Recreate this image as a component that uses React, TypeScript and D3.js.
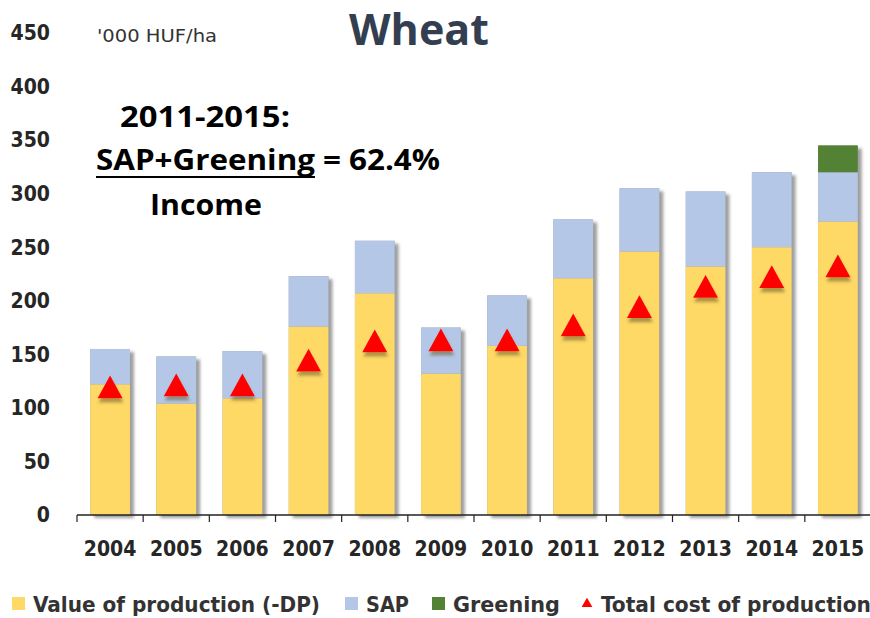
import React from "react";
import * as d3 from "d3";

const years = ["2004", "2005", "2006", "2007", "2008", "2009", "2010", "2011", "2012", "2013", "2014", "2015"];
const production = [122, 104, 109, 176, 207, 132, 158, 221, 246, 232, 250, 274];
const sap = [33, 44, 44, 47, 49, 43, 47, 55, 59, 70, 70, 46];
const greening = [0, 0, 0, 0, 0, 0, 0, 0, 0, 0, 0, 25];
const totalCost = [116, 118, 118, 141, 159, 160, 160, 174, 191, 210, 219, 229];
const yTicks = [0, 50, 100, 150, 200, 250, 300, 350, 400, 450];

const legendItems = [
  { label: "Value of production (-DP)", color: "#FFD966", kind: "rect", x: 12, w: 287 },
  { label: "SAP", color: "#B4C7E7", kind: "rect", x: 345, w: 43 },
  { label: "Greening", color: "#548235", kind: "rect", x: 432, w: 107 },
  { label: "Total cost of production", color: "#FF0000", kind: "tri", x: 580, w: 270 },
];

const FONT = "'Liberation Sans Narrow', 'DejaVu Sans Condensed', 'Liberation Sans', sans-serif";
const TITLE_FONT = "'Open Sans', 'Liberation Sans', sans-serif";

export default function App() {
  const width = 870;
  const height = 618;
  const plotLeft = 77;
  const plotRight = 871;

  const x = d3.scaleBand().domain(years).range([plotLeft, plotRight]).paddingInner(0.4).paddingOuter(0.2);
  const y = d3.scaleLinear().domain([0, 450]).range([515, 33]);

  // stacked segments: production, SAP, greening
  const stacked = years.map((yr, i) => {
    const p = production[i];
    const s = sap[i];
    const g = greening[i];
    return [
      { key: "prod", y0: 0, y1: p, color: "#FFD966" },
      { key: "sap", y0: p, y1: p + s, color: "#B4C7E7" },
      { key: "green", y0: p + s, y1: p + s + g, color: "#548235" },
    ];
  });

  const tri = d3.symbol().type(d3.symbolTriangle).size(270)();
  const triSmall = d3.symbol().type(d3.symbolTriangle).size(50)();
  const step = x.step();
  const boundaries = d3.range(years.length + 1).map((i) => plotLeft + i * step);

  return (
    <svg width={width} height={height} style={{ position: "absolute", left: 0, top: 0, background: "#fff" }}>
      <defs>
        <filter id="shadow" x="-20%" y="-20%" width="160%" height="140%">
          <feDropShadow dx="4" dy="3" stdDeviation="1.5" floodColor="#777" floodOpacity="0.7" />
        </filter>
        <filter id="tshadow" x="-40%" y="-40%" width="180%" height="200%">
          <feDropShadow dx="1" dy="4" stdDeviation="1.5" floodColor="#6b5a2a" floodOpacity="0.55" />
        </filter>
      </defs>

      {/* y tick labels */}
      {yTicks.map((t) => (
        <text key={t} x={50} y={y(t)} dy="0.35em" textAnchor="end" fontFamily={FONT} fontWeight={700} fontSize={21} fill="#262626">
          {t}
        </text>
      ))}

      {/* unit and title */}
      <text x={97} y={42} fontFamily={FONT} fontSize={18} fill="#333" textLength={120} lengthAdjust="spacingAndGlyphs">
        '000 HUF/ha
      </text>
      <text x={419} y={45} textAnchor="middle" fontFamily={TITLE_FONT} fontWeight={700} fontSize={43} fill="#333F50">
        Wheat
      </text>

      {/* bars */}
      {stacked.map((segs, i) => {
        const top = segs[2].y1;
        return (
          <g key={years[i]}>
            <rect x={x(years[i])} y={y(top)} width={x.bandwidth()} height={y(0) - y(top)} fill="#999" filter="url(#shadow)" />
            {segs
              .filter((s) => s.y1 > s.y0)
              .map((s) => (
                <rect key={s.key} x={x(years[i])} y={y(s.y1)} width={x.bandwidth()} height={y(s.y0) - y(s.y1)} fill={s.color} />
              ))}
          </g>
        );
      })}

      {/* triangles */}
      {totalCost.map((v, i) => (
        <path key={i} d={tri} transform={`translate(${x(years[i])! + x.bandwidth() / 2},${y(v)}) scale(1,1.05)`} fill="#FF0000" filter="url(#tshadow)" />
      ))}

      {/* x axis */}
      <line x1={plotLeft} x2={plotRight} y1={y(0)} y2={y(0)} stroke="#222" strokeWidth={1.5} />
      {boundaries.map((b, i) => (
        <line key={i} x1={b} x2={b} y1={y(0)} y2={y(0) + 7} stroke="#222" strokeWidth={1.2} />
      ))}
      {years.map((yr) => (
        <text key={yr} x={x(yr)! + x.bandwidth() / 2} y={556} textAnchor="middle" fontFamily={FONT} fontWeight={700} fontSize={21} fill="#262626">
          {yr}
        </text>
      ))}

      {/* annotation */}
      <text x={120} y={127} fontFamily={TITLE_FONT} fontWeight={700} fontSize={29} fill="#000" textLength={170} lengthAdjust="spacingAndGlyphs">
        2011-2015:
      </text>
      <text x={96} y={170} fontFamily={TITLE_FONT} fontWeight={700} fontSize={29} fill="#000" textLength={219} lengthAdjust="spacingAndGlyphs">
        SAP+Greening
      </text>
      <line x1={96} x2={315} y1={177} y2={177} stroke="#000" strokeWidth={2} />
      <text x={323} y={170} fontFamily={TITLE_FONT} fontWeight={700} fontSize={29} fill="#000" textLength={117} lengthAdjust="spacingAndGlyphs">
        = 62.4%
      </text>
      <text x={150} y={215} fontFamily={TITLE_FONT} fontWeight={700} fontSize={29} fill="#000" textLength={112} lengthAdjust="spacingAndGlyphs">
        Income
      </text>

      {/* legend */}
      {legendItems.map((it) => (
        <g key={it.label}>
          {it.kind === "rect" ? (
            <rect x={it.x} y={597} width={13} height={13} fill={it.color} />
          ) : (
            <path d={triSmall} transform={`translate(${it.x + 7},${604})`} fill={it.color} />
          )}
          <text x={it.x + 21} y={612} fontFamily={FONT} fontWeight={700} fontSize={21} fill="#333" textLength={it.w} lengthAdjust="spacingAndGlyphs">
            {it.label}
          </text>
        </g>
      ))}
    </svg>
  );
}
